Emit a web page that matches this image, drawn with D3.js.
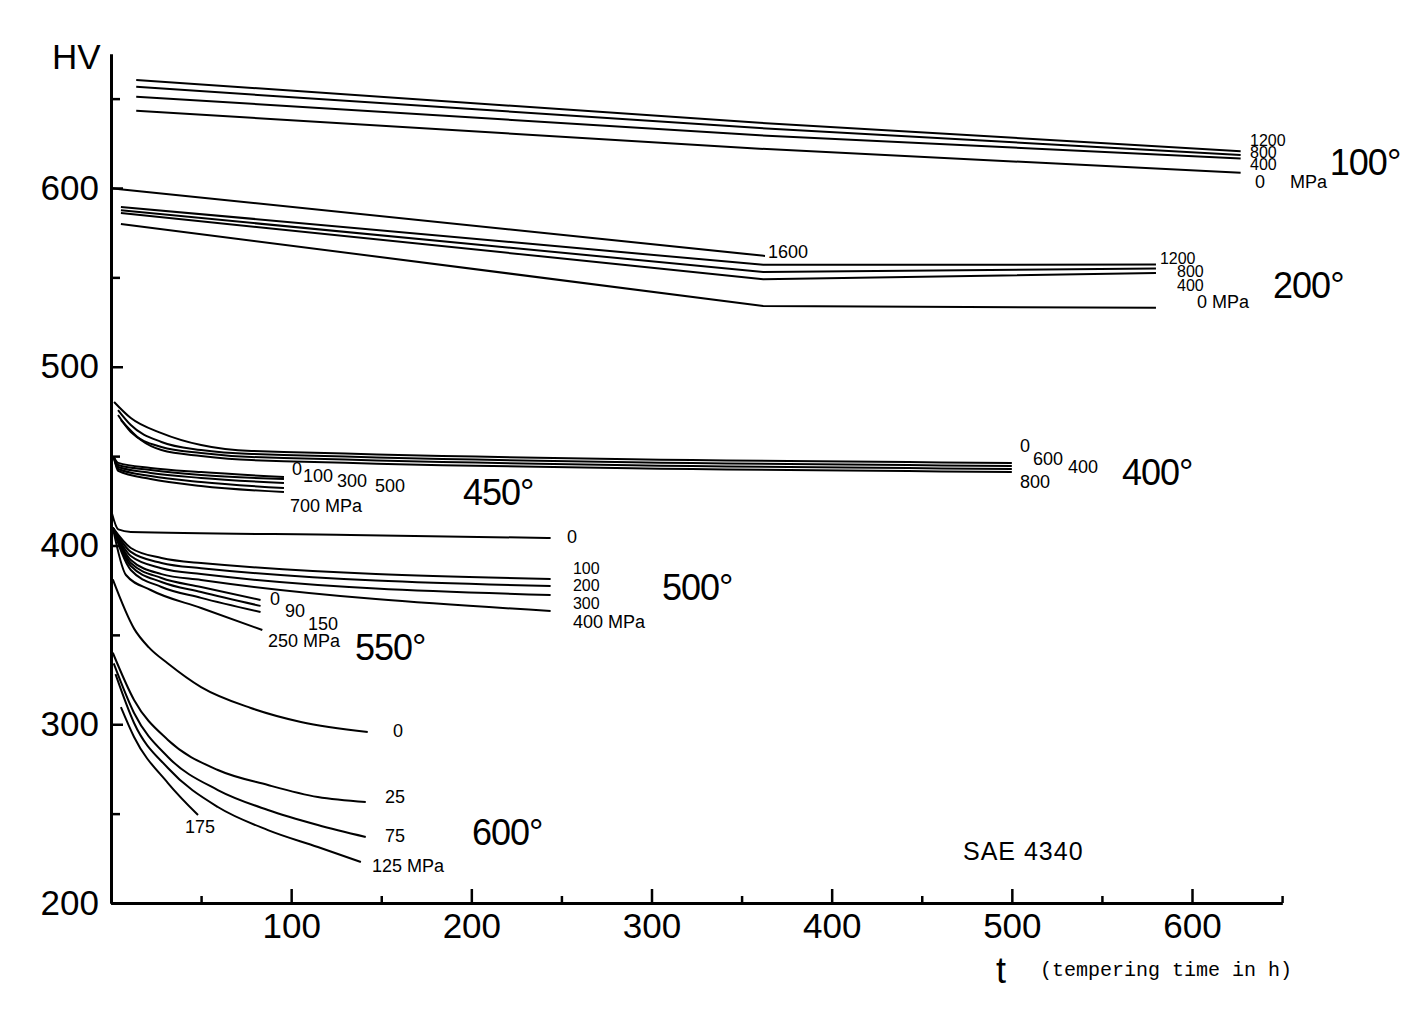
<!DOCTYPE html>
<html>
<head>
<meta charset="utf-8">
<script src="https://cdn.jsdelivr.net/npm/d3@7"></script>
<style>
	body { margin: 0; background: #fff; }
	svg text { font-family: "Liberation Sans", Arial, sans-serif; fill: #000; }
	.small { font-size: 18px; }
	.tiny { font-size: 16px; }
	.big { font-size: 36px; letter-spacing: -1px; }
	.tick text { font-size: 35px; }
	.caption { font-family: "Liberation Mono", "Courier New", monospace; font-size: 20px; }
</style>
</head>
<body>
<div id="chart"></div>
<script>
// curves: [stress label, [[hours, HV], ...]]
const curves100 = [
	["1200", [[14, 660.4], [360, 636.5], [627, 620.5]]],
	["800", [[14, 656.6], [360, 633.5], [627, 618.5]]],
	["400", [[14, 651.1], [360, 629.5], [627, 616.5]]],
	["0", [[14, 643.2], [360, 622], [627, 608.5]]]
];
const curves200 = [
	["1600", [[0, 600], [5, 599.3], [363, 562]]],
	["1200", [[5.5, 589.4], [362, 557], [580, 557.2]]],
	["800", [[5.5, 587.5], [362, 553], [580, 555]]],
	["400", [[5.5, 586], [362, 549], [580, 552.4]]],
	["0", [[5.5, 579.9], [362, 534], [580, 533]]]
];
const curves400 = [
	["0", [[1.7, 480.3], [11, 471.3], [28, 462.9], [50, 456.2], [78, 452.9], [500, 446.2]]],
	["600", [[3.9, 475.8], [11, 467.4], [28, 457.9], [50, 453.4], [78, 451.2], [500, 444.5]]],
	["400", [[3.9, 473], [11, 463.5], [28, 455.1], [50, 451.7], [78, 449.5], [500, 442.8]]],
	["800", [[5.5, 470.2], [16.6, 459], [28, 453.4], [50, 450.1], [78, 447.8], [500, 441.1]]]
];
const curves450 = [
	["0", [[1.5, 449.5], [4, 446.2], [22, 443.4], [50, 441.1], [96, 438.3]]],
	["100", [[1.5, 449.5], [4, 445], [22, 442.2], [50, 439.4], [96, 437.2]]],
	["300", [[1.5, 449.5], [4, 443.9], [22, 440.6], [50, 437.8], [96, 435]]],
	["500", [[1.5, 449.5], [4, 442.8], [22, 438.9], [50, 435.5], [96, 432.2]]],
	["700", [[1.5, 449.5], [4, 441.7], [22, 437.2], [50, 433.3], [96, 429.9]]]
];
const curves500 = [
	["0", [[0.5, 418], [4, 409], [11, 407.6], [133, 405.9], [244, 404.2]]],
	["100", [[1, 410], [11, 398.6], [28, 393], [50, 390.2], [244, 381.3]]],
	["200", [[1, 410], [11, 396.4], [28, 390.2], [50, 387.3], [244, 377.3]]],
	["300", [[1, 410], [11, 394.1], [28, 387.3], [50, 384], [244, 372.3]]],
	["400", [[1, 410], [11, 391.9], [28, 384], [50, 380.7], [244, 363.4]]]
];
const curves550 = [
	["0", [[1, 410], [11, 390.2], [28, 381.8], [50, 376.8], [83, 369.5]]],
	["90", [[1, 410], [11, 388.5], [28, 379.6], [50, 374], [83, 366.2]]],
	["150", [[1, 410], [11, 386.3], [28, 376.8], [50, 370.7], [83, 362.8]]],
	["250", [[1, 410], [8.3, 383.5], [22, 375.1], [50, 365], [84, 352.7]]]
];
const curves600 = [
	["0", [[1, 381], [12.8, 353.5], [21, 343], [31.6, 334], [50, 320.8], [77.6, 309.1], [105.4, 301.3], [142.5, 295.7]]],
	["25", [[1, 340], [12.8, 313.6], [31.6, 291.2], [59.3, 274.4], [87.1, 266], [114.8, 259.3], [141.4, 256.5]]],
	["75", [[1.5, 334], [12.8, 306.3], [31.6, 281.7], [59.3, 263.2], [87.1, 252], [114.8, 243.6], [141.4, 236.9]]],
	["125", [[2.5, 328], [12.8, 300.7], [31.6, 275.5], [59.3, 253.7], [87.1, 240.8], [114.8, 231.3], [138.7, 222.9]]],
	["175", [[5.5, 309.6], [12.8, 292.9], [31.6, 267.1], [48.3, 249.2]]]
];

// stress labels: [text, hours, HV, size class] (left edge, baseline)
const stressLabels = [
	["1200", 632.2, 623.5, "tiny"], ["800", 632.2, 616.8, "tiny"], ["400", 632.2, 610.1, "tiny"], ["0", 635, 600, "small"], ["MPa", 654.4, 600, "small"],
	["1600", 364.7, 560.8, "small"], ["1200", 582.2, 557.5, "tiny"], ["800", 591.7, 550.2, "tiny"], ["400", 591.7, 542.5, "tiny"], ["0 MPa", 602.8, 532.9, "small"],
	["0", 504.5, 452.3, "small"], ["600", 511.7, 445, "small"], ["400", 531.2, 440.6, "small"], ["800", 504.5, 432.2, "small"],
	["0", 100.5, 439.4, "small"], ["100", 106.6, 435.5, "small"], ["300", 125.4, 432.7, "small"], ["500", 146.5, 429.9, "small"], ["700 MPa", 99.4, 418.7, "small"],
	["0", 253.1, 401.4, "small"], ["100", 256.4, 383.8, "tiny"], ["200", 256.4, 374.5, "tiny"], ["300", 256.4, 364.5, "tiny"], ["400 MPa", 256.4, 353.8, "small"],
	["0", 88.3, 366.7, "small"], ["90", 96.6, 360, "small"], ["150", 109.3, 352.7, "small"], ["250 MPa", 87.1, 343.2, "small"],
	["0", 156.5, 292.9, "small"], ["25", 152.1, 255.9, "small"], ["75", 152.1, 234.1, "small"], ["125 MPa", 144.9, 217.3, "small"], ["175", 41.1, 239.2, "small"]
];
const tempLabels = [
	["100°", 676.5, 607.3], ["200°", 645, 538.5], ["400°", 561.1, 433.8],
	["450°", 195.4, 422.7], ["500°", 305.8, 369.5], ["550°", 135.4, 335.9], ["600°", 200.4, 232.4]
];

const xTicks = [100, 200, 300, 400, 500, 600];
const xMinor = [50, 150, 250, 350, 450, 550, 650];
const yTicks = [200, 300, 400, 500, 600];
const yMinor = [250, 350, 450, 550, 650];

const width = 1401;
const height = 1011;

const svg = d3.select("#chart")
	.append("svg")
		.attr("width", width)
		.attr("height", height);

const x = d3.scaleLinear().domain([0, 600]).range([111, 1192]);
const y = d3.scaleLinear().domain([200, 600]).range([903, 188]);

// axes (drawn a bit past the last tick, like the original)
const xAxisScale = x.copy().domain([0, 650]).range([x(0), x(650)]);
const yAxisScale = y.copy().domain([200, 675]).range([y(200), y(675)]);

svg.append("g")
	.attr("transform", `translate(0,${y(200)})`)
	.call(d3.axisBottom(xAxisScale).tickValues(xMinor).tickSize(-7).tickSizeOuter(0).tickFormat(""));
svg.append("g")
	.attr("transform", `translate(0,${y(200)})`)
	.call(d3.axisBottom(xAxisScale).tickValues(xTicks).tickSize(-14).tickSizeOuter(0).tickPadding(10));

svg.append("g")
	.attr("transform", `translate(${x(0)},0)`)
	.call(d3.axisLeft(yAxisScale).tickValues(yMinor).tickSize(-9).tickSizeOuter(0).tickFormat(""));
svg.append("g")
	.attr("transform", `translate(${x(0)},0)`)
	.call(d3.axisLeft(yAxisScale).tickValues(yTicks).tickSize(-12).tickSizeOuter(0).tickPadding(12));

svg.selectAll(".domain").style("stroke", "#000").style("stroke-width", 3);
svg.selectAll(".tick line").style("stroke", "#000").style("stroke-width", 2.5);

// curves
const straight = d3.line()
	.x((d) => x(d[0]))
	.y((d) => y(d[1]));
const smooth = d3.line()
	.x((d) => x(d[0]))
	.y((d) => y(d[1]))
	.curve(d3.curveMonotoneX);

const groups = [
	[curves100, straight], [curves200, straight], [curves400, smooth], [curves450, smooth],
	[curves500, smooth], [curves550, smooth], [curves600, smooth]
];

groups.forEach(([curves, line]) => {
	svg.append("g")
		.selectAll("path")
		.data(curves)
		.join("path")
			.attr("d", (d) => line(d[1]))
			.style("fill", "none")
			.style("stroke", "#000")
			.style("stroke-width", 2);
});

svg.append("g")
	.selectAll("text")
	.data(stressLabels)
	.join("text")
		.attr("class", (d) => d[3])
		.attr("x", (d) => x(d[1]))
		.attr("y", (d) => y(d[2]))
		.text((d) => d[0]);

svg.append("g")
	.selectAll("text")
	.data(tempLabels)
	.join("text")
		.attr("class", "big")
		.attr("x", (d) => x(d[1]))
		.attr("y", (d) => y(d[2]))
		.text((d) => d[0]);

svg.append("text")
	.attr("x", x(472.9))
	.attr("y", y(224.1))
	.style("font-size", "25px")
	.style("letter-spacing", "1px")
	.text("SAE  4340");

// axis titles
svg.append("text")
	.attr("x", 52)
	.attr("y", 69)
	.style("font-size", "35px")
	.text("HV");
svg.append("text")
	.attr("x", 996)
	.attr("y", 983)
	.style("font-size", "36px")
	.text("t");
svg.append("text")
	.attr("class", "caption")
	.attr("x", 1040)
	.attr("y", 976)
	.text("(tempering time in h)");
</script>
</body>
</html>
